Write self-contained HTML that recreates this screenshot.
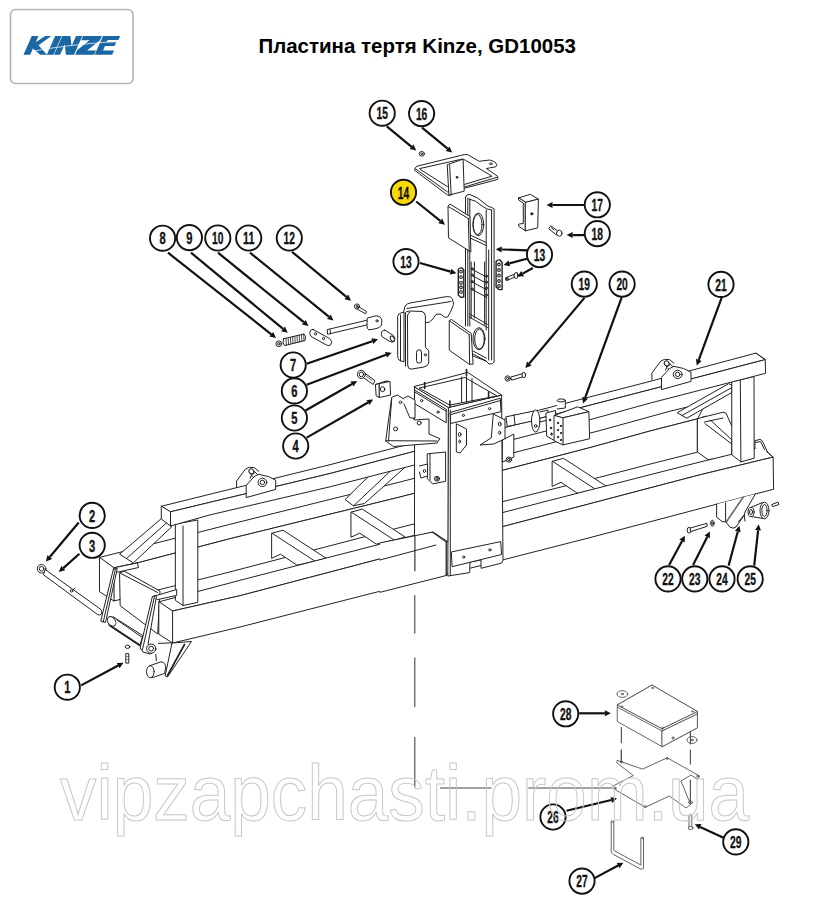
<!DOCTYPE html>
<html><head><meta charset="utf-8"><style>
html,body{margin:0;padding:0;background:#fff;width:813px;height:918px;overflow:hidden}
svg{display:block}
.n{font-family:"Liberation Sans",sans-serif;font-weight:bold;font-size:17.2px;fill:#111;stroke:#111;stroke-width:0.35}
.t{font-family:"Liberation Sans",sans-serif;font-weight:bold;font-size:19.8px;fill:#000}
.wm{font-family:"Liberation Sans",sans-serif;font-size:78px;fill:none;stroke:#c8c8c8;stroke-width:1.05}
</style></head><body>
<svg width="813" height="918" viewBox="0 0 813 918">
<rect x="10.5" y="9.5" width="122.5" height="74" rx="5" fill="#fff" stroke="#b4b4b4" stroke-width="1.6"/>
<polygon points="23.50,54.80 30.20,54.80 32.93,48.60 40.30,54.80 47.00,54.80 38.52,45.20 51.37,36.00 45.17,36.00 35.74,42.20 38.47,36.00 31.77,36.00" fill="#1a67a6"/>
<polygon points="46.80,54.80 53.40,54.80 61.67,36.00 55.07,36.00" fill="#1a67a6"/>
<polygon points="54.00,54.80 60.10,54.80 64.72,44.30 65.90,54.80 74.00,54.80 82.27,36.00 76.07,36.00 71.58,46.20 70.37,36.00 62.27,36.00" fill="#1a67a6"/>
<polygon points="75.10,54.80 94.10,54.80 96.04,50.40 87.04,50.40 99.98,40.30 101.87,36.00 83.07,36.00 81.18,40.30 89.48,40.30 77.12,50.20" fill="#1a67a6"/>
<polygon points="94.70,54.80 112.10,54.80 114.04,50.40 103.04,50.40 104.97,46.00 114.57,46.00 116.20,42.30 106.60,42.30 107.61,40.00 118.41,40.00 120.17,36.00 102.97,36.00" fill="#1a67a6"/>
<path d="M35,50.8 Q70,44.5 117,41.4" stroke="#e8f2fa" stroke-width="0.8" fill="none"/>
<text x="258.5" y="53" class="t" textLength="317.5" lengthAdjust="spacingAndGlyphs">Пластина тертя Kinze, GD10053</text>
<g fill="none" stroke="#222" stroke-width="1" stroke-linejoin="round" stroke-linecap="round">
<polygon points="99.8,557.4 230.0,524.3 400.0,482.0 600.0,430.5 670.0,411.2 706.0,402.5 697.6,418.8 697.6,418.8 650.0,431.0 590.0,447.6 400.0,497.0 230.0,538.7 137.4,562.9 114.0,567.8" fill="#fff"/>
<polygon points="114.0,567.8 137.4,562.9 230.0,538.7 400.0,497.0 590.0,447.6 650.0,431.0 697.6,418.8 697.6,452.1 697.6,452.1 650.0,464.1 598.3,477.6 400.0,527.5 230.0,571.9 114.0,601.0" fill="#fff"/>
<polygon points="99.8,557.4 114.0,567.8 114.0,601.0 99.8,591.8" fill="#fff"/>
<polygon points="697.6,418.8 706.0,416.0 732.0,440.0 732.0,458.0 707.9,459.5 697.6,452.1" fill="#fff"/>
<line x1="704.9" y1="423.5" x2="732.0" y2="444.2"/>
<polyline points="701.5,417.6 723.1,412.2 726.1,413.2 731.5,425.5" fill="#fff"/>
<line x1="704.5" y1="422.0" x2="723.0" y2="418.0"/>
<polygon points="119.9,573.0 124.0,571.0 160.0,591.0 157.7,634.0 120.5,606.0" fill="#fff"/>
<line x1="119.9" y1="573.0" x2="157.7" y2="592.5"/>
<polygon points="272.0,533.2 283.0,530.2 326.0,558.2 315.0,561.2 297.0,565.2 280.5,554.2 272.0,558.2" fill="#fff"/>
<line x1="272.0" y1="533.2" x2="315.0" y2="561.2"/>
<polygon points="351.3,512.1 362.3,509.1 405.3,537.1 394.3,540.1 376.3,544.1 359.8,533.1 351.3,537.1" fill="#fff"/>
<line x1="351.3" y1="512.1" x2="394.3" y2="540.1"/>
<polygon points="552.5,461.3 563.5,458.3 606.5,486.3 595.5,489.3 577.5,493.3 561.0,482.3 552.5,486.3" fill="#fff"/>
<line x1="552.5" y1="461.3" x2="595.5" y2="489.3"/>
<polygon points="119.9,554.0 162.0,518.0 172.0,526.5 133.6,562.6" fill="#fff"/>
<line x1="126.5" y1="558.5" x2="167.0" y2="522.5"/>
<polygon points="677.5,412.5 728.7,383.7 732.0,385.0 732.0,392.4 687.1,418.0" fill="#fff"/>
<line x1="682.0" y1="415.5" x2="731.0" y2="388.0"/>
<polygon points="345.3,499.3 371.0,474.0 407.0,465.5 364.5,503.5 353.7,505.7" fill="#fff"/>
<line x1="353.7" y1="505.7" x2="391.0" y2="470.5"/>
<polygon points="159.1,601.8 240.0,580.3 590.0,490.0 700.0,462.0 761.4,447.1 773.1,457.1 700.0,474.8 650.0,487.9 240.0,595.7 172.6,611.0" fill="#fff"/>
<polygon points="172.6,611.0 240.0,595.7 650.0,487.9 700.0,474.8 773.1,457.1 773.6,489.2 700.0,508.6 590.0,537.6 240.0,627.0 172.6,643.0" fill="#fff"/>
<polygon points="159.1,601.8 172.6,611.0 172.6,643.0 159.1,634.4" fill="#fff"/>
<polyline points="761.4,447.1 773.1,457.1"/>
<polyline points="754.9,448.5 754.9,440.8 760.0,439.3 762.3,440.8 767.4,451.8" fill="#fff"/>
<polyline points="755.5,442.5 760.5,441.5 764.5,449.5"/>
<polygon points="175.7,524.0 197.8,520.0 197.8,602.4 183.0,605.5 175.7,600.6" fill="#fff"/>
<line x1="183.0" y1="526.0" x2="183.0" y2="605.5"/>
<polygon points="732.1,381.8 754.0,376.5 754.2,458.2 740.9,461.9 732.1,455.0" fill="#fff"/>
<line x1="740.3" y1="380.0" x2="740.9" y2="461.9"/>
<polygon points="161.6,506.2 210.0,494.2 330.0,464.7 590.0,396.9 650.0,381.4 756.0,353.1 765.2,359.6 650.0,389.7 590.0,405.2 330.0,473.5 210.0,502.3 170.5,511.8" fill="#fff"/>
<polygon points="170.5,511.8 210.0,502.3 330.0,473.5 590.0,405.2 650.0,389.7 765.2,359.6 765.6,373.3 650.0,403.1 590.0,419.7 330.0,486.8 210.0,514.9 170.5,526.0" fill="#fff"/>
<polygon points="161.6,506.2 170.5,511.8 170.5,526.0 161.6,519.2" fill="#fff"/>
<polyline points="756.0,353.1 765.2,359.6"/>
<polyline points="236.6,487.6 236.6,481.0 245.4,469.1 249.2,467.4 254.3,467.6 258.7,471.3" fill="#fff"/>
<polygon points="249.7,472.2 253.2,470.2 262.2,479.2 258.2,482.2" fill="#fff"/>
<ellipse cx="251.4" cy="471.4" rx="2.2" ry="2.7" fill="#fff" transform="rotate(-40 251.39999999999998 471.4)"/>
<polygon points="246.2,497.2 246.2,485.4 254.3,476.5 258.7,474.3 268.3,476.5 275.7,480.2 275.7,489.0" fill="#fff"/>
<ellipse cx="262.4" cy="482.4" rx="4.4" ry="4.2"/>
<ellipse cx="262.4" cy="482.4" rx="2.3" ry="2.2"/>
<polyline points="250.2,478.2 251.7,474.7 254.2,473.2" fill="#fff"/>
<polyline points="651.9,379.6 651.9,373.0 660.7,361.1 664.5,359.4 669.6,359.6 674.0,363.3" fill="#fff"/>
<polygon points="665.0,364.2 668.5,362.2 677.5,371.2 673.5,374.2" fill="#fff"/>
<ellipse cx="666.7" cy="363.4" rx="2.2" ry="2.7" fill="#fff" transform="rotate(-40 666.7 363.4)"/>
<polygon points="661.5,389.2 661.5,377.4 669.6,368.5 674.0,366.3 683.6,368.5 691.0,372.2 691.0,381.0" fill="#fff"/>
<ellipse cx="677.7" cy="374.4" rx="4.4" ry="4.2"/>
<ellipse cx="677.7" cy="374.4" rx="2.3" ry="2.2"/>
<polyline points="665.5,370.2 667.0,366.7 669.5,365.2" fill="#fff"/>
<polygon points="414.9,387.0 448.7,407.4 448.7,542.3 433.0,532.0 414.9,537.0" fill="#fff"/>
<polygon points="380,542.9 433,532 446.3,542.3 446.3,575.5 380,592.3" fill="#fff" stroke="none"/>
<polyline points="380.0,542.9 433.0,532.0 446.3,542.3 446.3,575.5"/>
<polyline points="380.0,560.0 446.3,542.3"/>
<polyline points="380.0,592.3 446.3,575.5"/>
<line x1="414.9" y1="536.5" x2="414.9" y2="570.8" stroke-width="1.1"/>
<polyline points="432.2,532.2 446.1,542.0 446.1,575.5" fill="#fff"/>
<polygon points="448.7,407.4 501.6,395.1 503.0,560.5 501.6,563.1 481.0,568.3 481.0,560.0 470.0,562.0 469.7,572.6 448.2,576.0" fill="#fff"/>
<line x1="450.3" y1="410.0" x2="450.3" y2="575.0"/>
<polygon points="414.2,386.5 467.7,372.4 501.6,395.1 448.7,407.4" fill="#fff"/>
<polygon points="419.5,388.0 465.0,377.5 497.0,396.0 450.0,405.0"/>
<line x1="461.6" y1="377.0" x2="461.6" y2="401.9"/>
<line x1="466.5" y1="376.5" x2="466.5" y2="403.0"/>
<line x1="472.0" y1="378.5" x2="472.0" y2="401.9"/>
<line x1="424.7" y1="382.5" x2="424.7" y2="388.5" stroke-width="1.6"/>
<line x1="466.5" y1="369.5" x2="466.5" y2="375.5" stroke-width="1.6"/>
<line x1="449.9" y1="401.0" x2="449.9" y2="407.0" stroke-width="1.6"/>
<line x1="488.6" y1="392.0" x2="488.6" y2="398.0" stroke-width="1.6"/>
<polygon points="414.8,390.2 446.2,409.3 446.2,422.8 414.8,403.7" fill="#fff"/>
<line x1="414.8" y1="392.0" x2="446.2" y2="411.3"/>
<ellipse cx="421.6" cy="400.7" rx="1.1" ry="1.1"/>
<ellipse cx="438.0" cy="412.1" rx="1.1" ry="1.1"/>
<polygon points="450.5,412.4 500.3,398.2 500.9,411.7 451.1,423.4" fill="#fff"/>
<line x1="451.0" y1="414.5" x2="500.5" y2="400.5"/>
<ellipse cx="463.4" cy="415.4" rx="1.1" ry="1.1"/>
<ellipse cx="489.6" cy="408.7" rx="1.1" ry="1.1"/>
<polygon points="385.7,440.7 391.7,397.4 397.6,395.0 404.4,399.4 412.3,417.1 414.5,420.0 429.0,419.0 429.0,434.0 439.9,438.7 437.0,443.0 394.0,446.5" fill="#fff"/>
<line x1="388.5" y1="441.0" x2="391.7" y2="399.0"/>
<line x1="385.7" y1="440.7" x2="437.0" y2="441.0"/>
<ellipse cx="400.5" cy="402.3" rx="1.3" ry="1.3"/>
<ellipse cx="395.6" cy="428.9" rx="2" ry="2"/>
<ellipse cx="419.2" cy="423.0" rx="2" ry="2"/>
<polyline points="404.0,398.0 408.0,396.0 415.0,400.0 415.0,418.0 410.0,418.0 404.0,404.0" fill="#fff"/>
<polygon points="456.7,424.0 466.5,429.0 466.5,445.0 460.0,453.0 456.7,452.0" fill="#fff"/>
<ellipse cx="459.7" cy="434.5" rx="1.3" ry="2"/>
<ellipse cx="459.7" cy="441.5" rx="0.9" ry="1.5"/>
<polygon points="493.6,414.2 505.0,420.0 505.0,438.8 493.6,444.0 480.0,445.0 491.0,438.0" fill="#fff"/>
<ellipse cx="499.7" cy="424.0" rx="1.4" ry="2.0"/>
<ellipse cx="499.7" cy="432.7" rx="1.0" ry="1.7"/>
<polygon points="427.6,453.8 445.6,452.0 445.6,481.3 432.7,483.9 427.6,479.0" fill="#fff"/>
<line x1="430.0" y1="454.0" x2="430.0" y2="480.0"/>
<ellipse cx="437.0" cy="478.7" rx="2.6" ry="2.4"/>
<ellipse cx="437.0" cy="478.7" rx="1.3" ry="1.2"/>
<polyline points="419.5,466.0 427.6,464.0 427.6,476.0 421.0,478.0 419.5,472.0" fill="#fff"/>
<ellipse cx="424.5" cy="471.0" rx="1.2" ry="1.5"/>
<polygon points="502.7,440.0 513.8,434.0 513.8,457.0 502.7,462.0" fill="#fff"/>
<ellipse cx="508.9" cy="459.6" rx="2.8" ry="2.6" fill="#fff"/>
<ellipse cx="508.9" cy="459.6" rx="1.3" ry="1.2"/>
<polygon points="451.7,551.9 500.7,541.6 501.6,554.5 452.5,566.6" fill="#fff"/>
<ellipse cx="463.7" cy="557.1" rx="1.1" ry="1.1"/>
<ellipse cx="489.9" cy="549.9" rx="1.1" ry="1.1"/>
<polygon points="506.2,416.8 534.3,410.9 535.0,420.5 507.7,426.4" fill="#fff"/>
<line x1="514.0" y1="414.5" x2="515.0" y2="424.5"/>
<ellipse cx="535.7" cy="421.0" rx="4.2" ry="11" fill="#fff"/>
<ellipse cx="535.7" cy="426.0" rx="1.2" ry="1.5"/>
<polyline points="540.0,412.0 548.0,410.0 548.0,420.0 540.0,422.0"/>
<polygon points="546.3,413.0 555.6,410.5 555.6,441.2 547.0,436.3" fill="#fff"/>
<ellipse cx="550.0" cy="420.0" rx="0.7" ry="1.0" fill="#222"/>
<ellipse cx="551.0" cy="428.0" rx="0.7" ry="1.0" fill="#222"/>
<ellipse cx="551.5" cy="434.0" rx="0.7" ry="1.0" fill="#222"/>
<polygon points="554.4,415.4 577.8,406.8 588.9,411.7 563.0,417.8" fill="#fff"/>
<polygon points="563.0,417.8 588.9,411.7 589.6,438.8 563.0,444.9" fill="#fff"/>
<polygon points="554.4,415.4 563.0,417.8 563.0,444.9 554.4,441.0" fill="#fff"/>
<ellipse cx="558.0" cy="423.0" rx="0.6" ry="0.8" fill="#222"/>
<ellipse cx="558.0" cy="430.0" rx="0.6" ry="0.8" fill="#222"/>
<ellipse cx="558.0" cy="437.0" rx="0.6" ry="0.8" fill="#222"/>
<ellipse cx="561.0" cy="426.0" rx="0.6" ry="0.8" fill="#222"/>
<ellipse cx="561.0" cy="433.0" rx="0.6" ry="0.8" fill="#222"/>
<ellipse cx="561.0" cy="440.0" rx="0.6" ry="0.8" fill="#222"/>
<polyline points="557.2,401.0 565.3,399.9 565.3,408.0 557.2,409.0" fill="#fff"/>
<ellipse cx="561.2" cy="400.4" rx="4" ry="1.5" fill="#fff"/>
<ellipse cx="507.7" cy="378.5" rx="2.7" ry="2.7"/>
<ellipse cx="507.7" cy="378.5" rx="1.2" ry="1.2"/>
<polygon points="511.0,377.0 523.0,373.5 524.0,376.5 512.0,380.0" fill="#fff"/>
<ellipse cx="523.8" cy="375.0" rx="1.8" ry="2.8" fill="#fff"/>
<polygon points="415.0,168.5 416.6,166.3 464.2,154.6 467.6,154.6 479.2,161.3 489.7,160.0 494.7,161.8 496.9,164.6 495.8,166.8 489.7,167.9 486.4,168.5 497.5,176.2 498.0,177.9 497.5,179.5 463.1,188.6 449.9,195.5 447.6,195.0 415.0,170.6" fill="#fff"/>
<polygon points="420.0,168.5 462.0,159.1 465.4,160.2 491.9,176.2 464.2,184.5 447.6,186.7 420.5,169.6"/>
<polyline points="415.5,168.8 447.6,192.0 497.0,177.3"/>
<polygon points="447.6,164.6 463.1,159.1 464.2,191.2 449.3,195.0" fill="#fff"/>
<line x1="449.6" y1="165.0" x2="451.2" y2="194.5"/>
<ellipse cx="457.0" cy="177.3" rx="0.9" ry="0.9" fill="#222"/>
<ellipse cx="490.8" cy="163.8" rx="1.2" ry="0.9"/>
<ellipse cx="421.8" cy="153.8" rx="2.6" ry="2.3"/>
<ellipse cx="421.8" cy="153.8" rx="0.9" ry="0.8"/>
<path d="M465.5,197 Q466,194 470,194.5 Q478,197 484,203 Q488,207 492,207.6 L494.1,209 L494.1,362 Q493,364.5 489,364 L486,361 L473,356"/>
<line x1="465.5" y1="197.0" x2="465.5" y2="326.0"/>
<line x1="467.8" y1="198.0" x2="467.8" y2="326.0"/>
<line x1="469.8" y1="199.0" x2="469.8" y2="326.0"/>
<path d="M469,199 Q476,200 482,206 Q486,209.5 491.6,210"/>
<line x1="491.6" y1="210.0" x2="491.6" y2="360.0"/>
<line x1="486.2" y1="210.0" x2="486.2" y2="330.0"/>
<ellipse cx="478.3" cy="224.4" rx="5.4" ry="11.3"/>
<ellipse cx="477.6" cy="224.6" rx="4.4" ry="10.2"/>
<polyline points="469.0,234.5 486.2,242.5"/>
<polyline points="469.0,237.5 486.2,245.5"/>
<line x1="471.2" y1="262.0" x2="471.2" y2="318.0"/>
<line x1="474.4" y1="262.0" x2="474.4" y2="318.0"/>
<line x1="484.6" y1="262.0" x2="484.6" y2="325.0"/>
<line x1="488.7" y1="250.0" x2="488.7" y2="360.0"/>
<line x1="471.2" y1="268.8" x2="486.9" y2="277.3"/>
<ellipse cx="472.2" cy="268.8" rx="1.0" ry="1.2"/>
<line x1="471.2" y1="275.0" x2="486.9" y2="283.5"/>
<ellipse cx="472.2" cy="275.0" rx="1.0" ry="1.2"/>
<line x1="471.2" y1="281.5" x2="486.9" y2="290.0"/>
<ellipse cx="472.2" cy="281.5" rx="1.0" ry="1.2"/>
<line x1="471.2" y1="289.0" x2="486.9" y2="297.5"/>
<ellipse cx="472.2" cy="289.0" rx="1.0" ry="1.2"/>
<ellipse cx="486.5" cy="276.0" rx="0.9" ry="1.1"/>
<ellipse cx="486.5" cy="282.0" rx="0.9" ry="1.1"/>
<ellipse cx="486.5" cy="288.0" rx="0.9" ry="1.1"/>
<ellipse cx="486.5" cy="295.0" rx="0.9" ry="1.1"/>
<polyline points="469.2,313.8 487.5,324.3"/>
<polyline points="469.2,317.0 487.5,327.5"/>
<ellipse cx="479.0" cy="338.7" rx="6" ry="11"/>
<ellipse cx="479.5" cy="339.0" rx="4.8" ry="10"/>
<line x1="473.0" y1="351.0" x2="486.2" y2="358.0"/>
<line x1="473.0" y1="354.0" x2="486.2" y2="361.0"/>
<polygon points="448.3,205.7 450.0,204.0 469.9,216.5 470.9,251.9 448.8,238.1" fill="#fff"/>
<line x1="448.3" y1="206.5" x2="468.3" y2="218.5"/>
<line x1="468.3" y1="218.5" x2="469.3" y2="252.0"/>
<polygon points="449.6,320.4 451.5,319.5 471.2,333.4 473.1,364.2 469.2,364.2 449.6,350.4" fill="#fff"/>
<line x1="449.6" y1="321.0" x2="469.2" y2="334.5"/>
<line x1="469.2" y1="334.5" x2="469.6" y2="364.0"/>
<path d="M458.3,269.5 Q459.5,267.5 462,268 L463.8,270 L463.8,297 L461,297.4 L458.3,295 Z" stroke-width="1.4" fill="#fff"/>
<ellipse cx="461.0" cy="271.6" rx="1.3" ry="1.4" stroke-width="1.1"/>
<ellipse cx="461.0" cy="277.1" rx="1.3" ry="1.4" stroke-width="1.1"/>
<ellipse cx="461.0" cy="282.7" rx="1.3" ry="1.4" stroke-width="1.1"/>
<ellipse cx="461.0" cy="287.3" rx="1.3" ry="1.4" stroke-width="1.1"/>
<ellipse cx="461.0" cy="291.9" rx="1.3" ry="1.4" stroke-width="1.1"/>
<path d="M496.1,261.5 Q497.5,259.5 500,260 L502.1,262.5 L502.1,289.6 L499,289.6 L496.1,287 Z" stroke-width="1.4" fill="#fff"/>
<ellipse cx="499.0" cy="264.5" rx="1.3" ry="1.4" stroke-width="1.1"/>
<ellipse cx="499.0" cy="270.0" rx="1.3" ry="1.4" stroke-width="1.1"/>
<ellipse cx="499.0" cy="275.5" rx="1.3" ry="1.4" stroke-width="1.1"/>
<ellipse cx="499.0" cy="281.0" rx="1.3" ry="1.4" stroke-width="1.1"/>
<ellipse cx="499.0" cy="286.0" rx="1.3" ry="1.4" stroke-width="1.1"/>
<polygon points="506.5,277.5 513.5,274.5 514.5,277.2 507.5,280.3" fill="#fff"/>
<ellipse cx="506.8" cy="278.9" rx="1.3" ry="1.6"/>
<ellipse cx="516.0" cy="275.5" rx="1.9" ry="3.0" fill="#fff"/>
<line x1="517.0" y1="272.5" x2="519.0" y2="276.5"/>
<path d="M403.2,314 L405,306 Q407,303.5 410,303 L446.4,296.6 Q451,296 452.5,299 L453.6,304.4 L450.9,311 L447.5,317.1 Q445,318 443.1,316 Q441.5,313.5 438,314 L435.4,315 L433.1,318.8 L429.3,322.1 L425.9,322.7" fill="#fff"/>
<line x1="407.0" y1="308.5" x2="451.0" y2="301.5"/>
<path d="M397.7,316 Q398,313.5 401,313 L404,312 L404,362 L399,360 Q397.7,359 397.7,356 Z" fill="#fff"/>
<line x1="400.5" y1="315.0" x2="400.5" y2="361.0"/>
<path d="M405,313 Q406,311 410,311 L422,311.5 Q425,312.5 425.4,316 L425.4,347.6 L428.7,350.3 L428.7,363 Q428,366 424,367 L411,369.2 Q407.7,369 407.7,365 L407.5,316 Q407.5,313 410,312" fill="#fff"/>
<line x1="405.5" y1="313.5" x2="405.5" y2="366.0"/>
<path d="M416.5,352 Q416.5,349.8 419,349.8 Q421.5,349.8 421.5,352 L421.5,361 Q421.5,363.1 419,363.1 Q416.5,363.1 416.5,361 Z"/>
<ellipse cx="425.4" cy="354.8" rx="1.1" ry="1.1"/>
<path d="M385,330.2 L393.5,335.6 Q396,338.5 394,341.2 Q392,342.6 390,341.6 L382,336.6 Q380.5,334 382,331.2 Q383.5,329.8 385,330.2 Z" fill="#fff"/>
<ellipse cx="392.4" cy="338.8" rx="1.8" ry="3.0" transform="rotate(-30 392.4 338.8)"/>
<ellipse cx="278.8" cy="343.8" rx="2.9" ry="2.9" fill="#fff"/>
<ellipse cx="278.8" cy="343.8" rx="1.2" ry="1.2"/>
<path d="M283.6,338.8 L304,334 Q306.5,336.5 305,340.5 L284.5,345.6 Q282,343 283.6,338.8 Z" fill="#fff"/>
<line x1="286.0" y1="338.4" x2="286.4" y2="345.0" stroke-width="0.8"/>
<line x1="288.2" y1="337.9" x2="288.6" y2="344.5" stroke-width="0.8"/>
<line x1="290.4" y1="337.4" x2="290.8" y2="344.0" stroke-width="0.8"/>
<line x1="292.6" y1="336.8" x2="293.0" y2="343.4" stroke-width="0.8"/>
<line x1="294.8" y1="336.3" x2="295.2" y2="342.9" stroke-width="0.8"/>
<line x1="297.0" y1="335.8" x2="297.4" y2="342.4" stroke-width="0.8"/>
<line x1="299.2" y1="335.3" x2="299.6" y2="341.9" stroke-width="0.8"/>
<line x1="301.4" y1="334.8" x2="301.8" y2="341.4" stroke-width="0.8"/>
<line x1="303.6" y1="334.2" x2="304.0" y2="340.8" stroke-width="0.8"/>
<path d="M313.2,329.5 L329.5,338.5 Q333,341 331,344.5 Q329,346.5 326.5,345 L311,336.5 Q308.5,333 310.5,330.5 Q311.8,329 313.2,329.5 Z" fill="#fff"/>
<ellipse cx="315.5" cy="333.8" rx="1" ry="1.3"/>
<ellipse cx="323.5" cy="338.5" rx="1" ry="1.3"/>
<polygon points="327.6,329.5 368.0,320.0 368.5,324.5 328.0,334.2" fill="#fff"/>
<line x1="330.0" y1="329.5" x2="330.5" y2="333.8"/>
<path d="M367.5,318 L376,315.8 Q381,316 381.9,320 L381.5,325 Q380,328 376,328.6 L369,330 Q366.8,329 367,326 Z" fill="#fff"/>
<ellipse cx="377.0" cy="320.9" rx="1.1" ry="1.1"/>
<ellipse cx="357.0" cy="306.5" rx="2.6" ry="2.6" fill="#fff"/>
<ellipse cx="357.0" cy="306.5" rx="1" ry="1"/>
<polygon points="359.0,307.0 366.5,311.5 365.5,313.8 358.0,309.5" fill="#fff"/>
<polygon points="364.0,372.5 374.8,380.5 373.3,384.5 362.5,377.0" fill="#fff"/>
<line x1="366.0" y1="376.0" x2="372.0" y2="380.5" stroke-width="0.7"/>
<ellipse cx="361.4" cy="374.4" rx="3.9" ry="4.1" fill="#fff"/>
<ellipse cx="361.4" cy="374.4" rx="2.2" ry="2.4"/>
<polygon points="375.8,384.5 386.0,381.0 390.0,381.5 379.5,383.5" fill="#fff"/>
<polygon points="375.8,384.5 379.5,383.5 379.5,397.5 376.5,396.0" fill="#fff"/>
<polygon points="379.5,383.5 390.0,381.5 390.6,395.0 379.5,397.5" fill="#fff"/>
<ellipse cx="382.6" cy="389.2" rx="2.2" ry="2.5"/>
<polygon points="114.0,567.8 137.4,562.9 138.5,567.5 116.0,572.5" fill="#fff"/>
<polygon points="113.8,569.0 117.3,568.5 105.5,622.5 101.1,621.2" fill="#fff"/>
<line x1="115.5" y1="568.8" x2="103.2" y2="622.0"/>
<ellipse cx="41.6" cy="568.8" rx="4.3" ry="4.3" fill="#fff"/>
<ellipse cx="41.6" cy="568.8" rx="2.3" ry="2.3"/>
<path d="M45.5,569.8 L101,609.5 Q103,612 101,614.5 Q99,615.5 97.5,614.5 L43.8,575 Z" fill="#fff"/>
<line x1="73.0" y1="590.0" x2="75.0" y2="588.0"/>
<ellipse cx="71.5" cy="591.0" rx="1.3" ry="1.1"/>
<path d="M113.5,617 L142.8,635.5 L139.8,645.9 L109,625.5 Z" fill="#fff"/>
<ellipse cx="111.6" cy="621.4" rx="3.8" ry="5.2" fill="#fff" transform="rotate(-35 111.6 621.4)"/>
<line x1="110.5" y1="625.8" x2="139.5" y2="645.0" stroke-width="1.7"/>
<line x1="117.0" y1="620.0" x2="142.5" y2="637.5"/>
<polygon points="152.7,596.6 156.6,595.4 176.7,589.5 176.7,595.4 158.0,599.5" fill="#fff"/>
<polygon points="152.7,596.6 156.6,595.4 148.0,644.5 154.0,645.0 156.0,650.0 150.0,654.0 143.0,652.0 140.4,648.2" fill="#fff"/>
<line x1="154.6" y1="596.0" x2="142.5" y2="649.5"/>
<ellipse cx="151.2" cy="648.6" rx="4.6" ry="4.6" fill="#fff"/>
<ellipse cx="151.2" cy="648.6" rx="2.4" ry="2.4"/>
<polygon points="172.4,643.0 191.5,641.5 167.5,677.0 165.5,676.0" fill="#fff"/>
<line x1="184.5" y1="644.5" x2="167.5" y2="675.5" stroke-width="1.7"/>
<polyline points="158.3,643.4 172.4,642.8"/>
<line x1="155.8" y1="654.4" x2="156.4" y2="660.6"/>
<path d="M149.5,665.8 L161,661.8 Q166,662.5 165.7,668 L164.5,673.5 L152,677.8 Z" fill="#fff"/>
<ellipse cx="150.3" cy="671.7" rx="3.8" ry="6" fill="#fff"/>
<ellipse cx="127.5" cy="646.8" rx="2.4" ry="1.6" fill="#fff"/>
<polygon points="126.2,653.6 128.8,653.6 128.8,663.1 126.2,663.1" fill="#fff"/>
<line x1="126.5" y1="656.5" x2="128.5" y2="656.5" stroke-width="0.6"/>
<line x1="126.5" y1="659.5" x2="128.5" y2="659.5" stroke-width="0.6"/>
<polyline points="716.6,504.2 716.6,517.1 722.1,521.5 726.0,522.0 729.9,527.1 733.2,528.2 736.0,527.0 744.3,515.0 745.0,512.0 755.4,493.9" fill="#fff"/>
<line x1="725.6" y1="503.0" x2="725.6" y2="521.5"/>
<line x1="726.6" y1="521.5" x2="743.2" y2="497.2" stroke="#666" stroke-width="1.6" stroke-dasharray="1 0.6"/>
<polyline points="738.5,521.5 744.3,514.9 745.0,521.0"/>
<path d="M751,507.4 L762.5,502.5 L764.5,518.7 L751.5,516.6 Z" fill="#fff"/>
<ellipse cx="764.5" cy="510.5" rx="4.5" ry="8.3" fill="#fff"/>
<ellipse cx="764.5" cy="510.5" rx="2.6" ry="6"/>
<ellipse cx="751.0" cy="512.0" rx="3" ry="4.6" fill="#fff"/>
<ellipse cx="751.0" cy="512.0" rx="1.5" ry="2.5"/>
<polygon points="772.0,504.5 778.0,502.0 779.0,504.5 773.0,506.5" fill="#fff"/>
<ellipse cx="689.2" cy="530.2" rx="2.0" ry="3.0" fill="#fff"/>
<polygon points="690.5,528.0 706.9,523.3 707.2,526.3 691.0,531.5" fill="#fff"/>
<ellipse cx="712.4" cy="523.3" rx="1.8" ry="3.0" fill="#fff"/>
<ellipse cx="712.4" cy="523.3" rx="0.8" ry="1.4"/>
<polygon points="518.5,198.0 530.3,194.3 538.4,199.1 525.5,202.4" fill="#fff"/>
<polygon points="518.5,198.0 518.5,200.0 523.3,203.0 523.3,223.4 518.5,224.2 518.9,226.4 525.5,230.8 525.5,202.4" fill="#fff"/>
<polygon points="525.5,202.4 538.4,199.1 537.7,227.9 525.5,230.8" fill="#fff"/>
<ellipse cx="531.8" cy="213.8" rx="1.1" ry="1.1" fill="#222"/>
<polygon points="549.0,228.5 550.8,225.8 557.8,231.0 556.5,234.5" fill="#fff"/>
<ellipse cx="559.3" cy="233.2" rx="2.8" ry="3" fill="#fff"/>
<line x1="551.5" y1="228.0" x2="554.0" y2="230.0"/>
<g stroke="#555" stroke-width="0.9">
<polygon points="617.6,704.8 652.1,685.1 697.4,711.5 697.4,727.8 662.2,746.7 617.6,721.7" fill="#fff"/>
<polyline points="617.6,704.8 662.2,728.5 697.4,711.5"/>
<polyline points="617.6,707.3 662.2,731.0 697.4,714.0"/>
<line x1="662.2" y1="728.5" x2="662.2" y2="746.7"/>
<line x1="664.2" y1="730.0" x2="664.2" y2="745.8"/>
<ellipse cx="622.3" cy="694.0" rx="5.4" ry="3.4" fill="#fff"/>
<ellipse cx="622.3" cy="694.0" rx="1.2" ry="0.8"/>
<line x1="617.6" y1="704.8" x2="652.1" y2="685.1"/>
<polygon points="617.6,704.8 652.1,685.1 697.4,711.5 662.2,728.5" fill="#fff"/>
<ellipse cx="692.0" cy="740.0" rx="5" ry="3.5" fill="#fff"/>
<ellipse cx="692.0" cy="740.0" rx="1.2" ry="0.8"/>
<polygon points="662.2,746.7 697.4,727.8 697.4,714.0 662.2,731.0" fill="#fff"/>
<ellipse cx="622.0" cy="706.5" rx="0.8" ry="0.6"/>
<ellipse cx="652.5" cy="688.0" rx="0.8" ry="0.6"/>
<ellipse cx="692.5" cy="711.5" rx="0.8" ry="0.6"/>
<ellipse cx="662.5" cy="728.0" rx="0.8" ry="0.6"/>
<ellipse cx="673.0" cy="738.0" rx="0.9" ry="1.3"/>
<line x1="621.4" y1="727.5" x2="621.4" y2="742.7" stroke-width="1.2"/>
<line x1="621.4" y1="750.0" x2="621.4" y2="762.0" stroke-width="1.2"/>
<line x1="690.4" y1="731.8" x2="690.4" y2="744.0" stroke-width="1.2"/>
<line x1="690.4" y1="750.0" x2="690.4" y2="764.0" stroke-width="1.2"/>
<line x1="690.4" y1="780.4" x2="690.4" y2="803.1" stroke-width="1.2"/>
<polygon points="617.5,760.5 642.5,769.1 667.2,757.8 699.8,776.2 697.0,779.0 691.0,775.0 681.0,781.0 690.6,804.5 686.0,808.0 669.4,796.0 645.3,807.3 614.2,789.0 612.8,786.2 633.3,775.5 617.0,763.0" fill="none"/>
<ellipse cx="621.4" cy="762.0" rx="1.2" ry="0.9"/>
<ellipse cx="667.2" cy="758.5" rx="1.2" ry="0.9"/>
<ellipse cx="697.7" cy="776.2" rx="1.2" ry="0.9"/>
<ellipse cx="614.9" cy="788.2" rx="1.2" ry="0.9"/>
<ellipse cx="645.3" cy="806.6" rx="1.2" ry="0.9"/>
<ellipse cx="690.6" cy="802.4" rx="2" ry="1.4"/>
<line x1="621.4" y1="750.0" x2="621.4" y2="762.0" stroke-width="1.2"/>
<polygon points="689.4,815.0 691.8,815.0 691.8,827.0 689.4,827.0" fill="#fff"/>
<ellipse cx="690.6" cy="828.0" rx="2.4" ry="1.6" fill="#fff"/>
<path d="M611.2,822 L611.2,851.5 Q611.5,853.5 613.5,854.5 L640.5,869 Q642,869.5 643.5,868.5 L643.5,838.5 M613.8,822 L613.8,850.5 L640.9,865 L640.9,838.5" fill="none"/>
<ellipse cx="612.5" cy="821.5" rx="1.3" ry="0.8"/>
<ellipse cx="642.2" cy="838.0" rx="1.3" ry="0.8"/>
</g>
</g>
<g stroke="#444" stroke-width="1.1" fill="none">

<line x1="414.8" y1="595" x2="414.8" y2="633.5"/>
<line x1="414.8" y1="657.6" x2="414.8" y2="707"/>
<line x1="414.8" y1="737" x2="414.8" y2="787.5"/>
<line x1="440" y1="788" x2="491.5" y2="788"/>
<line x1="528.4" y1="788" x2="612.5" y2="788"/>
</g>
<line x1="386.8" y1="126.4" x2="411.6" y2="146.8" stroke="#111" stroke-width="2.2"/>
<polygon points="416.2,150.6 409.7,149.1 413.5,144.5" fill="#111"/>
<line x1="422.0" y1="127.7" x2="447.6" y2="148.7" stroke="#111" stroke-width="2.2"/>
<polygon points="452.2,152.5 445.7,151.0 449.5,146.4" fill="#111"/>
<line x1="416.2" y1="201.5" x2="440.3" y2="220.9" stroke="#111" stroke-width="2.2"/>
<polygon points="445.0,224.7 438.4,223.3 442.2,218.6" fill="#111"/>
<line x1="584.3" y1="205.0" x2="552.5" y2="205.0" stroke="#111" stroke-width="2.2"/>
<polygon points="546.5,205.0 552.5,202.0 552.5,208.0" fill="#111"/>
<line x1="584.3" y1="235.1" x2="572.6" y2="235.1" stroke="#111" stroke-width="2.2"/>
<polygon points="566.6,235.1 572.6,232.1 572.6,238.1" fill="#111"/>
<line x1="527.2" y1="250.3" x2="501.7" y2="249.5" stroke="#111" stroke-width="2.2"/>
<polygon points="495.7,249.3 501.8,246.5 501.6,252.5" fill="#111"/>
<line x1="526.9" y1="258.7" x2="509.4" y2="263.4" stroke="#111" stroke-width="2.2"/>
<polygon points="503.6,265.0 508.6,260.5 510.2,266.3" fill="#111"/>
<line x1="532.8" y1="268.0" x2="522.7" y2="273.6" stroke="#111" stroke-width="2.2"/>
<polygon points="517.4,276.5 521.2,271.0 524.1,276.2" fill="#111"/>
<line x1="419.9" y1="263.0" x2="450.6" y2="271.6" stroke="#111" stroke-width="2.2"/>
<polygon points="456.4,273.2 449.8,274.5 451.4,268.7" fill="#111"/>
<line x1="584.4" y1="297.9" x2="529.3" y2="363.5" stroke="#111" stroke-width="2.2"/>
<polygon points="525.4,368.1 527.0,361.6 531.6,365.4" fill="#111"/>
<line x1="621.7" y1="297.3" x2="585.1" y2="397.8" stroke="#111" stroke-width="2.2"/>
<polygon points="583.0,403.4 582.2,396.7 587.9,398.8" fill="#111"/>
<line x1="721.6" y1="297.9" x2="698.8" y2="359.9" stroke="#111" stroke-width="2.2"/>
<polygon points="696.7,365.5 696.0,358.8 701.6,360.9" fill="#111"/>
<line x1="168.0" y1="252.7" x2="271.3" y2="334.3" stroke="#111" stroke-width="2.2"/>
<polygon points="276.0,338.0 269.4,336.6 273.2,331.9" fill="#111"/>
<line x1="191.0" y1="252.7" x2="283.1" y2="328.9" stroke="#111" stroke-width="2.2"/>
<polygon points="287.7,332.7 281.2,331.2 285.0,326.6" fill="#111"/>
<line x1="218.0" y1="252.7" x2="303.8" y2="322.2" stroke="#111" stroke-width="2.2"/>
<polygon points="308.5,326.0 301.9,324.6 305.7,319.9" fill="#111"/>
<line x1="250.0" y1="252.7" x2="328.8" y2="316.7" stroke="#111" stroke-width="2.2"/>
<polygon points="333.5,320.5 327.0,319.0 330.7,314.4" fill="#111"/>
<line x1="292.0" y1="251.8" x2="346.4" y2="296.9" stroke="#111" stroke-width="2.2"/>
<polygon points="351.0,300.7 344.5,299.2 348.3,294.6" fill="#111"/>
<line x1="306.7" y1="363.8" x2="372.3" y2="341.2" stroke="#111" stroke-width="2.2"/>
<polygon points="378.0,339.2 373.3,344.0 371.3,338.3" fill="#111"/>
<line x1="306.7" y1="384.7" x2="386.0" y2="354.8" stroke="#111" stroke-width="2.2"/>
<polygon points="391.6,352.7 387.0,357.6 384.9,352.0" fill="#111"/>
<line x1="305.5" y1="410.5" x2="352.0" y2="384.0" stroke="#111" stroke-width="2.2"/>
<polygon points="357.2,381.0 353.5,386.6 350.5,381.4" fill="#111"/>
<line x1="306.7" y1="437.6" x2="368.0" y2="402.5" stroke="#111" stroke-width="2.2"/>
<polygon points="373.2,399.5 369.5,405.1 366.5,399.9" fill="#111"/>
<line x1="78.7" y1="522.5" x2="49.8" y2="557.0" stroke="#111" stroke-width="2.2"/>
<polygon points="45.9,561.6 47.5,555.1 52.1,558.9" fill="#111"/>
<line x1="79.4" y1="553.7" x2="63.3" y2="568.1" stroke="#111" stroke-width="2.2"/>
<polygon points="58.8,572.1 61.3,565.9 65.3,570.3" fill="#111"/>
<line x1="81.1" y1="685.4" x2="118.2" y2="665.5" stroke="#111" stroke-width="2.2"/>
<polygon points="123.5,662.7 119.6,668.2 116.8,662.9" fill="#111"/>
<line x1="669.1" y1="565.0" x2="682.1" y2="541.0" stroke="#111" stroke-width="2.2"/>
<polygon points="684.9,535.7 684.7,542.4 679.4,539.6" fill="#111"/>
<line x1="693.1" y1="565.0" x2="707.2" y2="537.0" stroke="#111" stroke-width="2.2"/>
<polygon points="709.9,531.6 709.9,538.3 704.5,535.6" fill="#111"/>
<line x1="728.6" y1="565.6" x2="737.8" y2="531.5" stroke="#111" stroke-width="2.2"/>
<polygon points="739.4,525.7 740.7,532.3 734.9,530.7" fill="#111"/>
<line x1="754.2" y1="565.6" x2="758.1" y2="530.3" stroke="#111" stroke-width="2.2"/>
<polygon points="758.7,524.3 761.0,530.6 755.1,529.9" fill="#111"/>
<line x1="579.2" y1="713.3" x2="604.9" y2="713.3" stroke="#111" stroke-width="2.2"/>
<polygon points="610.9,713.3 604.9,716.3 604.9,710.3" fill="#111"/>
<line x1="566.5" y1="810.7" x2="611.3" y2="800.0" stroke="#111" stroke-width="2.2"/>
<polygon points="617.1,798.6 612.0,802.9 610.6,797.1" fill="#111"/>
<line x1="594.1" y1="878.4" x2="618.1" y2="865.5" stroke="#111" stroke-width="2.2"/>
<polygon points="623.4,862.7 619.5,868.2 616.7,862.9" fill="#111"/>
<line x1="723.5" y1="837.8" x2="700.2" y2="826.9" stroke="#111" stroke-width="2.2"/>
<polygon points="694.8,824.3 701.5,824.1 699.0,829.6" fill="#111"/>
<circle cx="382.2" cy="113.2" r="12.6" fill="#fff" stroke="#111" stroke-width="1.9"/>
<text x="382.2" y="119.4" text-anchor="middle" textLength="11.4" lengthAdjust="spacingAndGlyphs" class="n">15</text>
<circle cx="421.6" cy="113.6" r="12.6" fill="#fff" stroke="#111" stroke-width="1.9"/>
<text x="421.6" y="119.8" text-anchor="middle" textLength="11.4" lengthAdjust="spacingAndGlyphs" class="n">16</text>
<circle cx="403.5" cy="192.3" r="12.6" fill="#f9d80a" stroke="#111" stroke-width="1.9"/>
<text x="403.5" y="198.5" text-anchor="middle" textLength="11.4" lengthAdjust="spacingAndGlyphs" class="n">14</text>
<circle cx="597.3" cy="204.8" r="12.6" fill="#fff" stroke="#111" stroke-width="1.9"/>
<text x="597.3" y="211.0" text-anchor="middle" textLength="11.4" lengthAdjust="spacingAndGlyphs" class="n">17</text>
<circle cx="597.3" cy="233.6" r="12.6" fill="#fff" stroke="#111" stroke-width="1.9"/>
<text x="597.3" y="239.8" text-anchor="middle" textLength="11.4" lengthAdjust="spacingAndGlyphs" class="n">18</text>
<circle cx="539.5" cy="254.6" r="12.6" fill="#fff" stroke="#111" stroke-width="1.9"/>
<text x="539.5" y="260.8" text-anchor="middle" textLength="11.4" lengthAdjust="spacingAndGlyphs" class="n">13</text>
<circle cx="406.0" cy="261.6" r="12.6" fill="#fff" stroke="#111" stroke-width="1.9"/>
<text x="406.0" y="267.8" text-anchor="middle" textLength="11.4" lengthAdjust="spacingAndGlyphs" class="n">13</text>
<circle cx="584.3" cy="284.1" r="12.6" fill="#fff" stroke="#111" stroke-width="1.9"/>
<text x="584.3" y="290.3" text-anchor="middle" textLength="11.4" lengthAdjust="spacingAndGlyphs" class="n">19</text>
<circle cx="622.1" cy="284.1" r="12.6" fill="#fff" stroke="#111" stroke-width="1.9"/>
<text x="622.1" y="290.3" text-anchor="middle" textLength="11.4" lengthAdjust="spacingAndGlyphs" class="n">20</text>
<circle cx="721.0" cy="284.4" r="12.6" fill="#fff" stroke="#111" stroke-width="1.9"/>
<text x="721.0" y="290.6" text-anchor="middle" textLength="11.4" lengthAdjust="spacingAndGlyphs" class="n">21</text>
<circle cx="162.6" cy="238.2" r="12.6" fill="#fff" stroke="#111" stroke-width="1.9"/>
<text x="162.6" y="244.4" text-anchor="middle" textLength="6.2" lengthAdjust="spacingAndGlyphs" class="n">8</text>
<circle cx="189.4" cy="237.6" r="12.6" fill="#fff" stroke="#111" stroke-width="1.9"/>
<text x="189.4" y="243.8" text-anchor="middle" textLength="6.2" lengthAdjust="spacingAndGlyphs" class="n">9</text>
<circle cx="217.8" cy="238.0" r="12.6" fill="#fff" stroke="#111" stroke-width="1.9"/>
<text x="217.8" y="244.2" text-anchor="middle" textLength="11.4" lengthAdjust="spacingAndGlyphs" class="n">10</text>
<circle cx="248.7" cy="238.0" r="12.6" fill="#fff" stroke="#111" stroke-width="1.9"/>
<text x="248.7" y="244.2" text-anchor="middle" textLength="11.4" lengthAdjust="spacingAndGlyphs" class="n">11</text>
<circle cx="289.3" cy="238.0" r="12.6" fill="#fff" stroke="#111" stroke-width="1.9"/>
<text x="289.3" y="244.2" text-anchor="middle" textLength="11.4" lengthAdjust="spacingAndGlyphs" class="n">12</text>
<circle cx="293.2" cy="365.0" r="12.6" fill="#fff" stroke="#111" stroke-width="1.9"/>
<text x="293.2" y="371.2" text-anchor="middle" textLength="6.2" lengthAdjust="spacingAndGlyphs" class="n">7</text>
<circle cx="294.4" cy="390.9" r="12.6" fill="#fff" stroke="#111" stroke-width="1.9"/>
<text x="294.4" y="397.1" text-anchor="middle" textLength="6.2" lengthAdjust="spacingAndGlyphs" class="n">6</text>
<circle cx="294.4" cy="418.0" r="12.6" fill="#fff" stroke="#111" stroke-width="1.9"/>
<text x="294.4" y="424.2" text-anchor="middle" textLength="6.2" lengthAdjust="spacingAndGlyphs" class="n">5</text>
<circle cx="295.7" cy="446.0" r="12.6" fill="#fff" stroke="#111" stroke-width="1.9"/>
<text x="295.7" y="452.2" text-anchor="middle" textLength="6.2" lengthAdjust="spacingAndGlyphs" class="n">4</text>
<circle cx="92.2" cy="515.4" r="12.6" fill="#fff" stroke="#111" stroke-width="1.9"/>
<text x="92.2" y="521.6" text-anchor="middle" textLength="6.2" lengthAdjust="spacingAndGlyphs" class="n">2</text>
<circle cx="92.2" cy="545.3" r="12.6" fill="#fff" stroke="#111" stroke-width="1.9"/>
<text x="92.2" y="551.5" text-anchor="middle" textLength="6.2" lengthAdjust="spacingAndGlyphs" class="n">3</text>
<circle cx="67.3" cy="687.2" r="12.6" fill="#fff" stroke="#111" stroke-width="1.9"/>
<text x="67.3" y="693.4" text-anchor="middle" textLength="6.2" lengthAdjust="spacingAndGlyphs" class="n">1</text>
<circle cx="668.0" cy="578.9" r="12.6" fill="#fff" stroke="#111" stroke-width="1.9"/>
<text x="668.0" y="585.1" text-anchor="middle" textLength="11.4" lengthAdjust="spacingAndGlyphs" class="n">22</text>
<circle cx="694.8" cy="578.9" r="12.6" fill="#fff" stroke="#111" stroke-width="1.9"/>
<text x="694.8" y="585.1" text-anchor="middle" textLength="11.4" lengthAdjust="spacingAndGlyphs" class="n">23</text>
<circle cx="722.0" cy="578.9" r="12.6" fill="#fff" stroke="#111" stroke-width="1.9"/>
<text x="722.0" y="585.1" text-anchor="middle" textLength="11.4" lengthAdjust="spacingAndGlyphs" class="n">24</text>
<circle cx="750.2" cy="578.9" r="12.6" fill="#fff" stroke="#111" stroke-width="1.9"/>
<text x="750.2" y="585.1" text-anchor="middle" textLength="11.4" lengthAdjust="spacingAndGlyphs" class="n">25</text>
<circle cx="565.7" cy="713.8" r="12.6" fill="#fff" stroke="#111" stroke-width="1.9"/>
<text x="565.7" y="720.0" text-anchor="middle" textLength="11.4" lengthAdjust="spacingAndGlyphs" class="n">28</text>
<circle cx="553.0" cy="817.0" r="12.6" fill="#fff" stroke="#111" stroke-width="1.9"/>
<text x="553.0" y="823.2" text-anchor="middle" textLength="11.4" lengthAdjust="spacingAndGlyphs" class="n">26</text>
<circle cx="582.0" cy="881.1" r="12.6" fill="#fff" stroke="#111" stroke-width="1.9"/>
<text x="582.0" y="887.3" text-anchor="middle" textLength="11.4" lengthAdjust="spacingAndGlyphs" class="n">27</text>
<circle cx="735.8" cy="841.9" r="12.6" fill="#fff" stroke="#111" stroke-width="1.9"/>
<text x="735.8" y="848.1" text-anchor="middle" textLength="11.4" lengthAdjust="spacingAndGlyphs" class="n">29</text>
<text x="60" y="820" class="wm" textLength="689" lengthAdjust="spacingAndGlyphs">vipzapchasti.prom.ua</text>
</svg>
</body></html>
